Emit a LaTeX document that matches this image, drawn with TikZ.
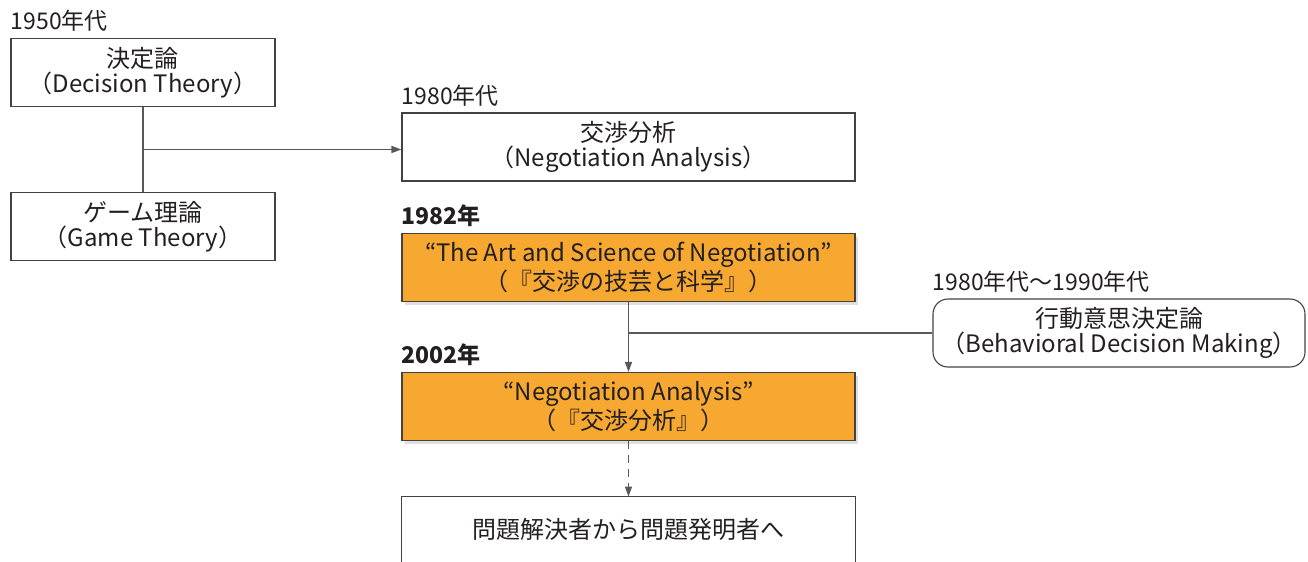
\documentclass[tikz,border=0pt]{standalone}
\usepackage{fontspec}
\setmainfont{Noto Sans CJK JP}
\usepackage{tikz}
\usetikzlibrary{arrows.meta, calc, shadows}

\definecolor{boxorange}{HTML}{F7A831}
\definecolor{ink}{HTML}{231F20}

\begin{document}
\begin{tikzpicture}[x=0.5pt, y=-0.5pt,
    every node/.style={text=ink, font=\fontsize{12}{12.3}\selectfont, align=center},
    box/.style={draw=ink!85, line width=0.55pt, minimum height=34pt, inner sep=0pt},
    smallbox/.style={box, minimum width=132pt},
    widebox/.style={box, minimum width=226.5pt},
    orangebox/.style={widebox, fill=boxorange, drop shadow={opacity=0.25, shadow xshift=1.5pt, shadow yshift=-1.5pt}},
    roundbox/.style={box, minimum width=186pt, rounded corners=7.5pt},
    yearlabel/.style={anchor=south west, inner xsep=0pt, inner ysep=3pt, font=\fontsize{11.5}{12}\selectfont},
    boldyear/.style={yearlabel, font=\fontsize{11.5}{12}\selectfont\bfseries},
    conn/.style={draw=ink!75, line width=0.65pt},
    arr/.style={conn, -{Triangle[length=5pt, width=3.5pt]}}]
    \useasboundingbox (0,0) rectangle (1308,562);
    \clip (0,0) rectangle (1308,562);
    % left column
    \node[smallbox] (dec) at (143,72.5) {決定論\\（Decision Theory）};
    \node[smallbox] (game) at (143,226.5) {ゲーム理論\\（Game Theory）};
    \node[yearlabel] at (dec.north west) {1950年代};
    % main column
    \node[widebox] (nana) at (628.5,147) {交渉分析\\（Negotiation Analysis）};
    \node[yearlabel] at (nana.north west) {1980年代};
    \node[orangebox] (art) at (628.5,267.5) {“The Art and Science of Negotiation”\\（『交渉の技芸と科学』）};
    \node[boldyear] at (art.north west) {1982年};
    \node[orangebox] (nab) at (628.5,406.5) {“Negotiation Analysis”\\（『交渉分析』）};
    \node[boldyear] at (nab.north west) {2002年};
    \node[minimum width=226.5pt, minimum height=32pt, inner sep=0pt] (pinv) at (628.5,529) {問題解決者から問題発明者へ};
    \draw[draw=ink!85, line width=0.55pt] (pinv.north west) ++(0,90) |- (pinv.north east) -- ++(0,90);
    % right
    \node[roundbox] (bdm) at (1119,333) {行動意思決定論\\（Behavioral Decision Making）};
    \node[yearlabel] at (bdm.north west) {1980年代～1990年代};
    % connectors
    \draw[conn] (dec) -- (game);
    \coordinate (mid) at ($(dec.south)!0.5!(game.north)$);
    \draw[arr] (mid) -- (mid -| nana.west);
    \draw[arr] (art) -- (nab);
    \draw[conn] (bdm.west) -- (bdm.west -| art.south);
    \draw[arr, dashed, dash pattern=on 4pt off 3pt] (nab) -- (pinv);
\end{tikzpicture}
\end{document}
